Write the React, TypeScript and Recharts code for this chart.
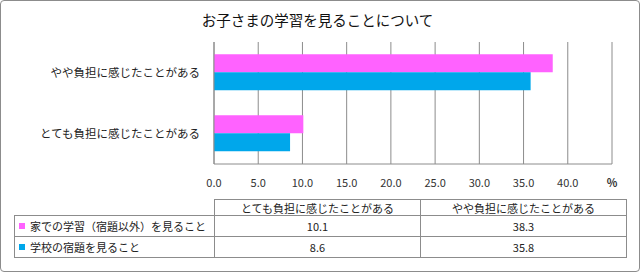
import React from 'react';
import { BarChart, Bar, XAxis, YAxis, CartesianGrid } from 'recharts';

const categories = ['とても負担に感じたことがある', 'やや負担に感じたことがある'];
const seriesNames = ['家での学習（宿題以外）を見ること', '学校の宿題を見ること'];
const homeStudy = [10.1, 38.3];
const schoolHomework = [8.6, 35.8];
const xTicks = [0, 5, 10, 15, 20, 25, 30, 35, 40, 45];

const PINK = '#FF62FF';
const BLUE = '#00A7EB';
const LINE = '#8c8c8c';
const FONT = '"Noto Sans CJK JP", "Noto Sans", sans-serif';

// Excel draws the first category at the bottom, so flip for the chart
const chartData = categories
    .map((name, i) => ({ name, home: homeStudy[i], school: schoolHomework[i] }))
    .reverse();

const colors = [PINK, BLUE];
const values = [homeStudy, schoolHomework];

function XTick({ x, y, payload }: any) {
    const isLast = payload.value === 45;
    return (
        <text
            x={x}
            y={y}
            dy="0.71em"
            textAnchor="middle"
            fontSize={11}
            fontFamily={FONT}
            fontWeight={isLast ? 700 : 400}
            fill="#333"
        >
            {isLast ? '%' : Number(payload.value).toFixed(1)}
        </text>
    );
}

// x/y are the grid line coordinates of the table
const colX = [14, 214, 420, 626];
const rowY = [199, 215, 236, 257];

function Cell({ x0, x1, y0, y1, children, align = 'center' }: any) {
    return (
        <div
            style={{
                position: 'absolute',
                left: x0,
                top: y0,
                width: x1 - x0 + 1,
                height: y1 - y0 + 1,
                boxSizing: 'border-box',
                border: `1px solid ${LINE}`,
                display: 'flex',
                alignItems: 'center',
                justifyContent: align === 'left' ? 'flex-start' : 'center',
                fontSize: 11,
                color: '#222',
                fontFamily: FONT,
                whiteSpace: 'nowrap',
            }}
        >
            {children}
        </div>
    );
}

export default function App() {
    return (
        <div style={{ position: 'absolute', left: 0, top: 0, width: 640, height: 272, background: '#fff' }}>
            <div
                style={{
                    position: 'absolute',
                    left: 0,
                    top: 12,
                    width: 635,
                    height: 15,
                    lineHeight: '15px',
                    textAlign: 'center',
                    fontSize: 14.5,
                    fontFamily: FONT,
                    color: '#111',
                }}
            >
                お子さまの学習を見ることについて
            </div>

            <div style={{ position: 'absolute', left: 0, top: 0 }}>
                <BarChart
                    width={640}
                    height={200}
                    data={chartData}
                    layout="vertical"
                    margin={{ top: 42, right: 28, bottom: 0, left: 0 }}
                    barCategoryGap="20%"
                    barGap={0}
                >
                    <CartesianGrid horizontal={false} vertical={true} stroke={LINE} />
                    <XAxis
                        type="number"
                        domain={[0, 45]}
                        ticks={xTicks}
                        interval={0}
                        height={36}
                        axisLine={{ stroke: LINE }}
                        tickLine={false}
                        tickSize={0}
                        tickMargin={15}
                        tick={<XTick />}
                    />
                    <YAxis
                        type="category"
                        dataKey="name"
                        width={214}
                        axisLine={{ stroke: LINE }}
                        tickLine={false}
                        tickSize={0}
                        tickMargin={14}
                        tick={{ fontSize: 11.5, fill: '#222', fontFamily: FONT }}
                    />
                    <Bar dataKey="home" name={seriesNames[0]} fill={PINK} isAnimationActive={false} />
                    <Bar dataKey="school" name={seriesNames[1]} fill={BLUE} isAnimationActive={false} />
                </BarChart>
            </div>

            {/* data table */}
            {categories.map((c, j) => (
                <Cell key={c} x0={colX[j + 1]} x1={colX[j + 2]} y0={rowY[0]} y1={rowY[1]}>
                    {c}
                </Cell>
            ))}
            {seriesNames.map((s, i) => (
                <React.Fragment key={s}>
                    <Cell x0={colX[0]} x1={colX[1]} y0={rowY[i + 1]} y1={rowY[i + 2]} align="left">
                        <span
                            style={{
                                display: 'inline-block',
                                width: 6,
                                height: 6,
                                background: colors[i],
                                marginLeft: 4,
                                marginRight: 5,
                            }}
                        />
                        {s}
                    </Cell>
                    {values[i].map((v, j) => (
                        <Cell key={j} x0={colX[j + 1]} x1={colX[j + 2]} y0={rowY[i + 1]} y1={rowY[i + 2]}>
                            {v.toFixed(1)}
                        </Cell>
                    ))}
                </React.Fragment>
            ))}

            <div
                style={{
                    position: 'absolute',
                    inset: 0,
                    boxSizing: 'border-box',
                    border: `1px solid ${LINE}`,
                    borderRadius: 4,
                    pointerEvents: 'none',
                }}
            />
        </div>
    );
}
